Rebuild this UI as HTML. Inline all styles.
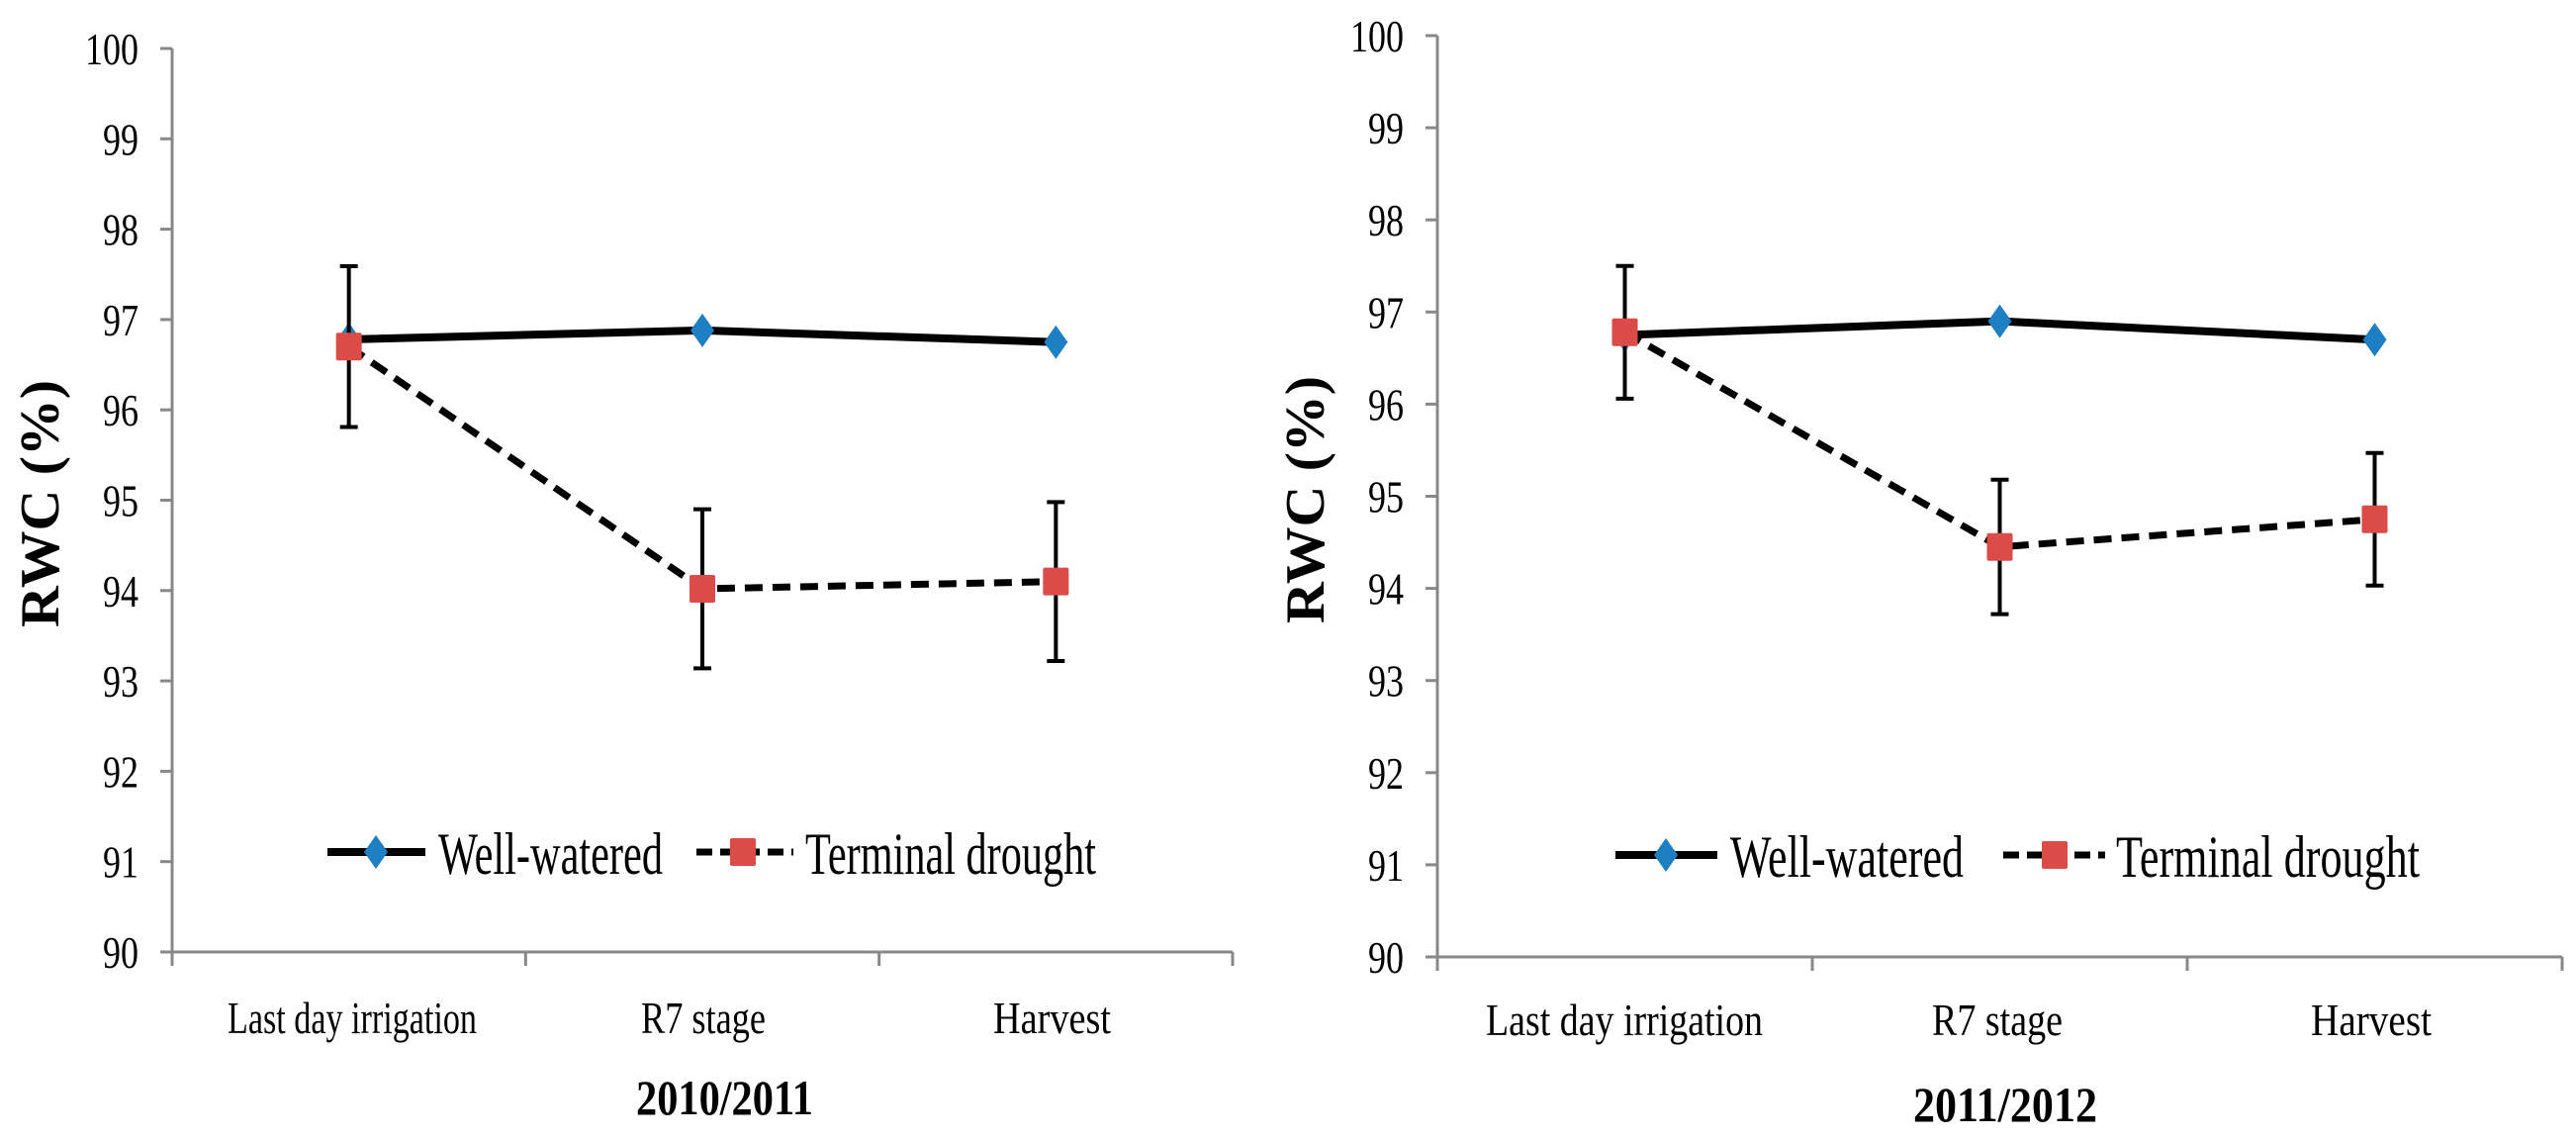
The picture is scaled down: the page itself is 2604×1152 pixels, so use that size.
<!DOCTYPE html>
<html><head><meta charset="utf-8"><style>
html,body{margin:0;padding:0;background:#fff;overflow:hidden}
svg{display:block}
text{font-family:"Liberation Serif",serif;fill:#000}
</style></head><body>
<svg id="chart" width="2604" height="1152" viewBox="0 0 2604 1152" xmlns="http://www.w3.org/2000/svg"></svg>
<script>
const categories = ["Last day irrigation","R7 stage","Harvest"];
const yTicks = [90,91,92,93,94,95,96,97,98,99,100];
const seriesNames = ["Well-watered","Terminal drought"];
const ww2011 = [96.78, 96.88, 96.75];
const td2011 = [96.70, 94.02, 94.10];
const err2011 = [0.89, 0.88, 0.88];
const ww2012 = [96.75, 96.90, 96.70];
const td2012 = [96.78, 94.45, 94.75];
const err2012 = [0.72, 0.73, 0.72];
const panelTitles = ["2010/2011","2011/2012"];

const NS="http://www.w3.org/2000/svg";
const svg=document.getElementById('chart');
function mk(tag,attrs,parent){const e=document.createElementNS(NS,tag);for(const k in attrs)e.setAttribute(k,attrs[k]);(parent||svg).appendChild(e);return e;}

const panels=[
 {x0:174,x1:1246,yTop:49,yBot:962,ww:ww2011,td:td2011,err:err2011,title:panelTitles[0],
  tickEnd:140,ytx:40,yty:509,
  catLab:[[230,482],[648,774],[1004,1123]],catY:1044,titleX:[643,822],titleY:1126,
  leg:{l1:[331,430],d:380,t1:[443,670],l2:[704,802],s:751,t2:[814,1108],y:861}},
 {x0:1453,x1:2590,yTop:36,yBot:967,ww:ww2012,td:td2012,err:err2012,title:panelTitles[1],
  tickEnd:1419,ytx:1319,yty:505,
  catLab:[[1502,1782],[1953,2085],[2336,2458]],catY:1046,titleX:[1934,2120],titleY:1133,
  leg:{l1:[1633,1736],d:1684,t1:[1749,1985],l2:[2025,2128],s:2077,t2:[2139,2446],y:864}}
];

function diamond(g,cx,cy){return mk('polygon',{points:`${cx},${cy-17} ${cx+12},${cy} ${cx},${cy+17} ${cx-12},${cy}`,fill:'#1f7fc4'},g);}
function square(g,cx,cy){return mk('rect',{x:cx-13,y:cy-14,width:26,height:28,rx:2,fill:'#db4b48'},g);}

panels.forEach((p,pi)=>{
  const g=mk('g',{});
  
  
  const n=categories.length, band=(p.x1-p.x0)/n;
  const xS=i=>p.x0+band*(i+0.5);
  const yS=v=>p.yBot-(v-90)/10*(p.yBot-p.yTop);
  const ya=mk('line',{x1:p.x0,y1:p.yTop,x2:p.x0,y2:p.yBot,stroke:'#888',"stroke-width":3},g);
  
  const xa=mk('line',{x1:p.x0,y1:p.yBot,x2:p.x1,y2:p.yBot,stroke:'#888',"stroke-width":3},g);
  
  yTicks.forEach(t=>{
    const y=yS(t);
    mk('line',{x1:p.x0-12,y1:y,x2:p.x0,y2:y,stroke:'#888',"stroke-width":3},g);
    const tx=mk('text',{x:p.tickEnd,y:y+16,"text-anchor":"end","font-size":46,textLength:String(t).length*18,lengthAdjust:"spacingAndGlyphs"},g);
    tx.textContent=t;
    
  });
  for(let i=0;i<=n;i++){const x=p.x0+band*i;mk('line',{x1:x,y1:p.yBot,x2:x,y2:p.yBot+14,stroke:'#888',"stroke-width":3},g);}
  categories.forEach((c,i)=>{
    const [a,b]=p.catLab[i];
    const t=mk('text',{x:a,y:p.catY,"font-size":46,textLength:b-a,lengthAdjust:"spacingAndGlyphs"},g);
    t.textContent=c;
    
  });
  const tt=mk('text',{x:p.titleX[0],y:p.titleY,"font-size":50,"font-weight":"bold",textLength:p.titleX[1]-p.titleX[0],lengthAdjust:"spacingAndGlyphs"},g);
  tt.textContent=p.title;
  
  const yt=mk('text',{x:0,y:0,"font-size":56,"font-weight":"bold","text-anchor":"middle",textLength:250,lengthAdjust:"spacingAndGlyphs",transform:`translate(${p.ytx+19},${p.yty}) rotate(-90)`},g);
  yt.textContent="RWC (%)";
  
  const wl=mk('polyline',{points:p.ww.map((v,i)=>xS(i)+','+yS(v)).join(' '),fill:'none',stroke:'#000',"stroke-width":8},g);
  
  const tl=mk('polyline',{points:p.td.map((v,i)=>xS(i)+','+yS(v)).join(' '),fill:'none',stroke:'#000',"stroke-width":7,"stroke-dasharray":"18 10"},g);
  
  p.ww.forEach((v,i)=>{
    const d=diamond(g,xS(i),yS(v));
    
  });
  p.td.forEach((v,i)=>{
    const x=xS(i),y1=yS(v+p.err[i]),y2=yS(v-p.err[i]);
    const eb=mk('path',{d:`M${x},${y1}V${y2}M${x-9},${y1}H${x+9}M${x-9},${y2}H${x+9}`,stroke:'#000',"stroke-width":4,fill:'none'},g);
    
  });
  p.td.forEach((v,i)=>{
    const s=square(g,xS(i),yS(v));
    
  });
  const L=p.leg;
  const lg=mk('g',{},g);
  
  mk('line',{x1:L.l1[0],y1:L.y,x2:L.l1[1],y2:L.y,stroke:'#000',"stroke-width":8},lg);
  diamond(lg,L.d,L.y);
  const t1=mk('text',{x:L.t1[0],y:L.y+22,"font-size":60,textLength:L.t1[1]-L.t1[0],lengthAdjust:"spacingAndGlyphs"},lg);
  t1.textContent=seriesNames[0];
  
  mk('line',{x1:L.l2[0],y1:L.y,x2:L.l2[1],y2:L.y,stroke:'#000',"stroke-width":7,"stroke-dasharray":"16 8"},lg);
  square(lg,L.s,L.y);
  const t2=mk('text',{x:L.t2[0],y:L.y+22,"font-size":60,textLength:L.t2[1]-L.t2[0],lengthAdjust:"spacingAndGlyphs"},lg);
  t2.textContent=seriesNames[1];
  
});
</script>
</body></html>
